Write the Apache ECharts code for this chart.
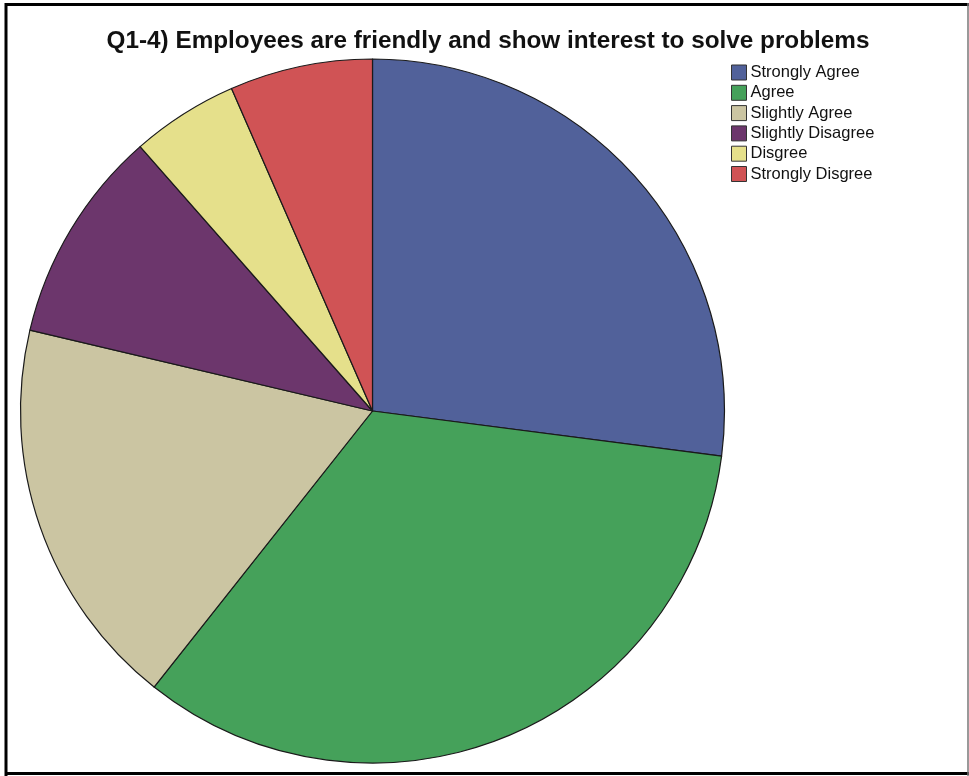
<!DOCTYPE html>
<html>
<head>
<meta charset="utf-8">
<script src="https://cdn.jsdelivr.net/npm/echarts@6/dist/echarts.min.js"></script>
<style>
  html, body { margin: 0; padding: 0; background: #ffffff; }
  #chart { width: 969px; height: 776px; }
</style>
</head>
<body>
<div id="chart"></div>
<script>
// Survey responses for Q1-4
const titleText = 'Q1-4) Employees are friendly and show interest to solve problems';
const categories = ['Strongly Agree', 'Agree', 'Slightly Agree', 'Slightly Disagree', 'Disgree', 'Strongly Disgree'];
const counts = [33, 41, 22, 12, 6, 8];
const colors = ['#51619A', '#45A15A', '#CBC5A2', '#6C366C', '#E5E08B', '#D05355'];

const chart = echarts.init(document.getElementById('chart'));

chart.setOption({
  animation: false,
  backgroundColor: '#ffffff',
  legend: {
    orient: 'vertical',
    left: 726,
    top: 59,
    itemWidth: 15,
    itemHeight: 15,
    itemGap: 3.3,
    icon: 'rect',
    data: categories,
    textStyle: {
      fontFamily: 'Arial',
      fontSize: 16.5,
      lineHeight: 15,
      color: '#111111',
      padding: [0, 0, 0, -1]
    },
    itemStyle: { borderColor: '#333333', borderWidth: 1 }
  },
  series: [{
    type: 'pie',
    center: [372.5, 411],
    radius: 352,
    startAngle: 90,
    clockwise: true,
    label: { show: false },
    labelLine: { show: false },
    emphasis: { disabled: true },
    itemStyle: { borderColor: '#1a1a1a', borderWidth: 1.2 },
    data: categories.map((name, i) => ({
      name: name,
      value: counts[i],
      itemStyle: { color: colors[i] }
    }))
  }],
  graphic: [
    {
      type: 'text',
      x: 488,
      y: 41,
      style: {
        text: titleText,
        align: 'center',
        verticalAlign: 'middle',
        fontFamily: 'Liberation Sans, Arial, sans-serif',
        fontWeight: 'bold',
        fontSize: 24.3,
        fill: '#111111'
      }
    },
    { type: 'line', shape: { x1: 6, y1: 4.5, x2: 969, y2: 4.5 }, style: { stroke: '#000', lineWidth: 3 } },
    { type: 'line', shape: { x1: 6, y1: 3, x2: 6, y2: 776 }, style: { stroke: '#000', lineWidth: 3 } },
    { type: 'line', shape: { x1: 6, y1: 773.5, x2: 969, y2: 773.5 }, style: { stroke: '#000', lineWidth: 3 } },
    { type: 'line', shape: { x1: 968, y1: 3, x2: 968, y2: 776 }, style: { stroke: '#777', lineWidth: 1.5 } }
  ]
});
</script>
</body>
</html>
